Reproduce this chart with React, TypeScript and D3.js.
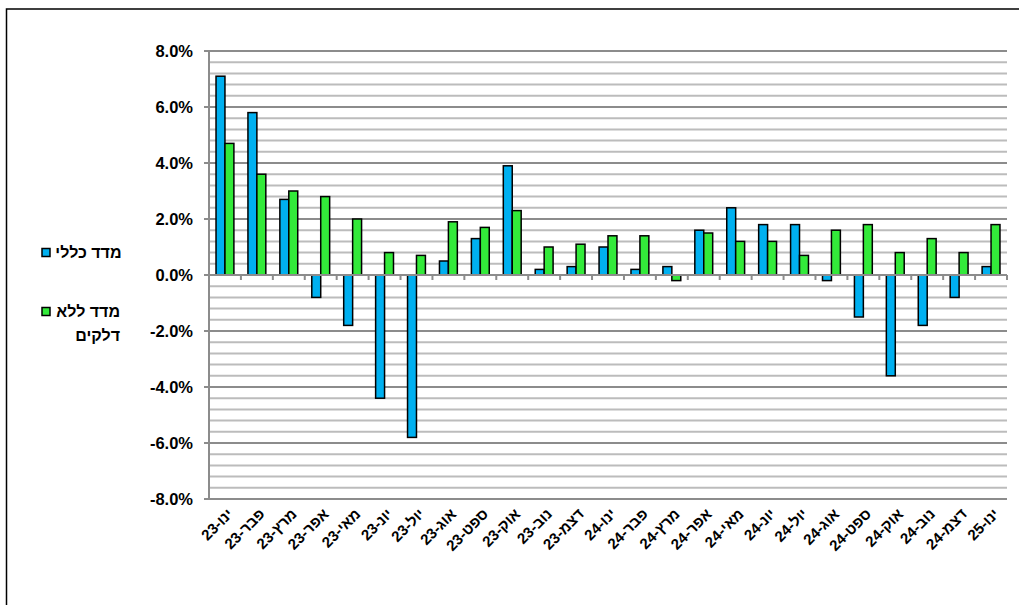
import React from "react";
import * as d3 from "d3";

const categories = [
  "ינו-23", "פבר-23", "מרץ-23", "אפר-23", "מאי-23", "יונ-23", "יול-23", "אוג-23", "ספט-23", "אוק-23", "נוב-23", "דצמ-23",
  "ינו-24", "פבר-24", "מרץ-24", "אפר-24", "מאי-24", "יונ-24", "יול-24", "אוג-24", "ספט-24", "אוק-24", "נוב-24", "דצמ-24",
  "ינו-25",
];
const generalIndex = [
  7.1, 5.8, 2.7, -0.8, -1.8, -4.4, -5.8, 0.5, 1.3, 3.9, 0.2, 0.3,
  1.0, 0.2, 0.3, 1.6, 2.4, 1.8, 1.8, -0.2, -1.5, -3.6, -1.8, -0.8,
  0.3,
];
const noFuelIndex = [
  4.7, 3.6, 3.0, 2.8, 2.0, 0.8, 0.7, 1.9, 1.7, 2.3, 1.0, 1.1,
  1.4, 1.4, -0.2, 1.5, 1.2, 1.2, 0.7, 1.6, 1.8, 0.8, 1.3, 0.8,
  1.8,
];
const yTicks = [8, 6, 4, 2, 0, -2, -4, -6, -8];
const seriesNames = ["מדד כללי", "מדד ללא", "דלקים"];

const W = 1019;
const H = 605;
const FONT = "'Liberation Sans', Arial, sans-serif";

export default function App() {
  const left = 209;
  const right = 1007;
  const top = 51;
  const bottom = 499;

  const x = d3.scaleBand<string>().domain(categories).range([left, right]).paddingInner(0).paddingOuter(0);
  const y = d3.scaleLinear().domain([-8, 8]).range([bottom, top]);
  const bw = x.bandwidth();
  const barW = bw * 0.28;
  const minorTicks = d3.range(-8, 8.001, 0.4).map((v) => Math.round(v * 10) / 10);
  const y0 = y(0);

  return (
    <svg width={W} height={H} style={{ position: "absolute", left: 0, top: 0, background: "#fff" }} fontFamily={FONT}>
      <rect x={0} y={0} width={W} height={H} fill="#fff" />
      <rect x={6.5} y={9} width={W + 20} height={H + 20} fill="none" stroke="#000" strokeWidth={1.5} />

      {minorTicks.map((v) => {
        const isMajor = Math.abs(v / 2 - Math.round(v / 2)) < 1e-6;
        return (
          <line
            key={"g" + v}
            x1={left}
            x2={right}
            y1={y(v)}
            y2={y(v)}
            stroke={isMajor ? "#8c8c8c" : "#bcbcbc"}
            strokeWidth={2}
          />
        );
      })}

      <line x1={left} x2={left} y1={top} y2={bottom} stroke="#8c8c8c" strokeWidth={2} />
      {yTicks.map((v) => (
        <g key={"yt" + v}>
          <line x1={left - 5} x2={left} y1={y(v)} y2={y(v)} stroke="#8c8c8c" strokeWidth={2} />
          <text
            x={193}
            y={y(v)}
            textAnchor="end"
            dominantBaseline="central"
            fontSize={16.5}
            fontWeight="bold"
            fill="#000"
          >
            {v.toFixed(1) + "%"}
          </text>
        </g>
      ))}

      {categories.map((c, i) => {
        const cx = (x(c) as number) + bw / 2;
        const g = generalIndex[i];
        const n = noFuelIndex[i];
        return (
          <g key={"b" + c}>
            <rect
              x={cx - barW}
              y={Math.min(y(g), y0)}
              width={barW}
              height={Math.abs(y(g) - y0)}
              fill="#00B0F0"
              stroke="#000"
              strokeWidth={1.5}
            />
            <rect
              x={cx}
              y={Math.min(y(n), y0)}
              width={barW}
              height={Math.abs(y(n) - y0)}
              fill="#33EA3A"
              stroke="#000"
              strokeWidth={1.5}
            />
          </g>
        );
      })}

      <line x1={left} x2={right} y1={y0} y2={y0} stroke="#8c8c8c" strokeWidth={2} />
      {d3.range(categories.length + 1).map((i) => (
        <line
          key={"xt" + i}
          x1={left + i * bw}
          x2={left + i * bw}
          y1={y0}
          y2={y0 + 5}
          stroke="#8c8c8c"
          strokeWidth={2}
        />
      ))}

      {categories.map((c) => {
        const cx = (x(c) as number) + bw / 2;
        const ax = cx + 1;
        const ay = bottom + 8;
        return (
          <text
            key={"xl" + c}
            x={ax}
            y={ay}
            transform={`rotate(-45 ${ax} ${ay})`}
            textAnchor="end"
            dominantBaseline="hanging"
            fontSize={15}
            fontWeight="bold"
            fill="#000"
          >
            {c}
          </text>
        );
      })}

      <rect x={42} y={248.5} width={8} height={8} fill="#00B0F0" stroke="#000" strokeWidth={1.5} />
      <text x={121.5} y={252.5} textAnchor="end" dominantBaseline="central" fontSize={16} fontWeight="bold">
        {seriesNames[0]}
      </text>
      <rect x={42} y={307.5} width={8} height={8} fill="#33EA3A" stroke="#000" strokeWidth={1.5} />
      <text x={120} y={311.5} textAnchor="end" dominantBaseline="central" fontSize={16} fontWeight="bold">
        {seriesNames[1]}
      </text>
      <text x={120} y={335} textAnchor="end" dominantBaseline="central" fontSize={16} fontWeight="bold">
        {seriesNames[2]}
      </text>
    </svg>
  );
}
